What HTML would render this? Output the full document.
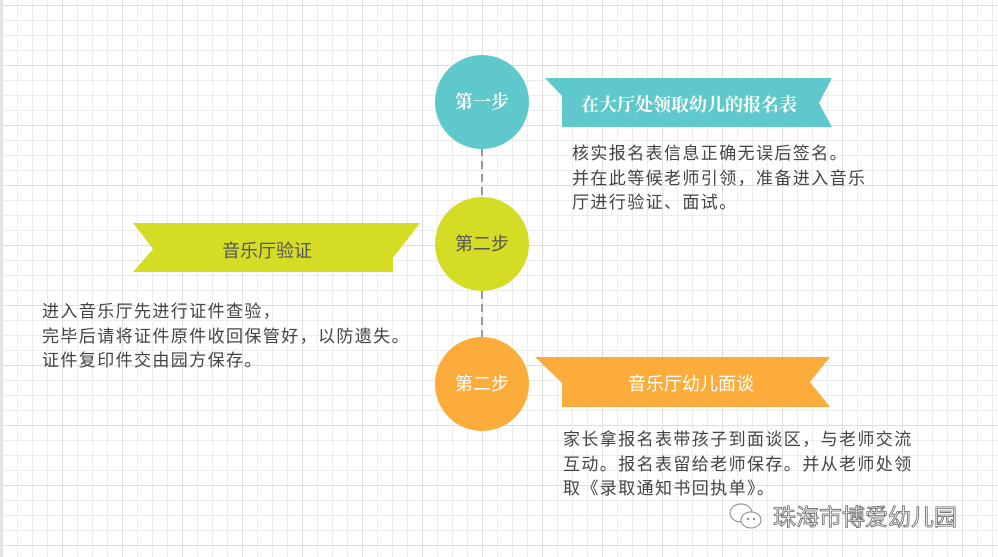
<!DOCTYPE html>
<html><head><meta charset="utf-8"><style>
html,body{margin:0;padding:0}
body{width:998px;height:557px;overflow:hidden;position:relative;background-color:#fff;
background-image:
linear-gradient(to right,#dedede 1px,transparent 1px),
linear-gradient(to bottom,#dedede 1px,transparent 1px),
linear-gradient(to right,#ececec 1px,transparent 1px),
linear-gradient(to bottom,#ececec 1px,transparent 1px);
background-size:60px 60px,60px 60px,15px 15px,15px 15px;
background-position:2px 5px,2px 5px,2px 5px,2px 5px;
font-family:"Liberation Sans","Noto Sans CJK SC",sans-serif;}
.t{position:absolute;font-size:17px;letter-spacing:1.4px;line-height:24.5px;color:#444;white-space:nowrap}
.c{position:absolute;width:94px;height:94px;border-radius:50%;text-align:center;line-height:94px;font-size:18px}
.lbl{position:absolute;font-size:18px;white-space:nowrap}
.sf{font-family:"Liberation Serif","Noto Serif CJK SC",serif;font-weight:bold}
</style></head><body>
<div style="position:absolute;left:0;top:0;width:2px;height:557px;background:#e4e4e4"></div>
<svg width="998" height="557" style="position:absolute;left:0;top:0">
<line x1="482" y1="148" x2="482" y2="340" stroke="#999" stroke-width="2" stroke-dasharray="8,5"/>
<polygon points="545,78 832,78 819,103 832,127 562,127 562,96" fill="#5fc8cb"/>
<polygon points="133,223 420,223 393,258 393,272 133,272 153,249" fill="#d4dc26"/>
<polygon points="535,357 830,357 810,382 830,407 562,407 562,383" fill="#fbac3a"/>
</svg>
<div class="c sf" style="left:435px;top:55px;background:#5fc8cb;color:#fff">第一步</div>
<div class="c" style="left:435px;top:197px;background:#d4dc26;color:#555">第二步</div>
<div class="c" style="left:435px;top:337px;background:#fbac3a;color:#fff">第二步</div>
<div class="lbl sf" style="left:581px;top:91px;color:#fff">在大厅处领取幼儿的报名表</div>
<div class="lbl" style="left:222px;top:237px;color:#555">音乐厅验证</div>
<div class="lbl" style="left:628px;top:370px;color:#fff">音乐厅幼儿面谈</div>
<div class="t" style="left:572px;top:142px">核实报名表信息正确无误后签名。<br>并在此等候老师引领，准备进入音乐<br>厅进行验证、面试。</div>
<div class="t" style="left:42px;top:300px">进入音乐厅先进行证件查验，<br>完毕后请将证件原件收回保管好，以防遗失。<br>证件复印件交由园方保存。</div>
<div class="t" style="left:563px;top:428px">家长拿报名表带孩子到面谈区，与老师交流<br>互动。报名表留给老师保存。并从老师处领<br>取《录取通知书回执单》。</div>
<svg width="40" height="32" style="position:absolute;left:727px;top:500px">
<ellipse cx="14" cy="13" rx="11" ry="9" fill="#fff" stroke="#888" stroke-width="1"/>
<ellipse cx="24" cy="20" rx="10" ry="8" fill="#fff" stroke="#888" stroke-width="1"/>
<circle cx="21" cy="19" r="1.2" fill="#888"/><circle cx="27" cy="19" r="1.2" fill="#888"/>
</svg>
<div style="position:absolute;left:773px;top:498px;font-size:23px;color:#fff;-webkit-text-stroke:0.8px #666;white-space:nowrap">珠海市博爱幼儿园</div>
</body></html>
